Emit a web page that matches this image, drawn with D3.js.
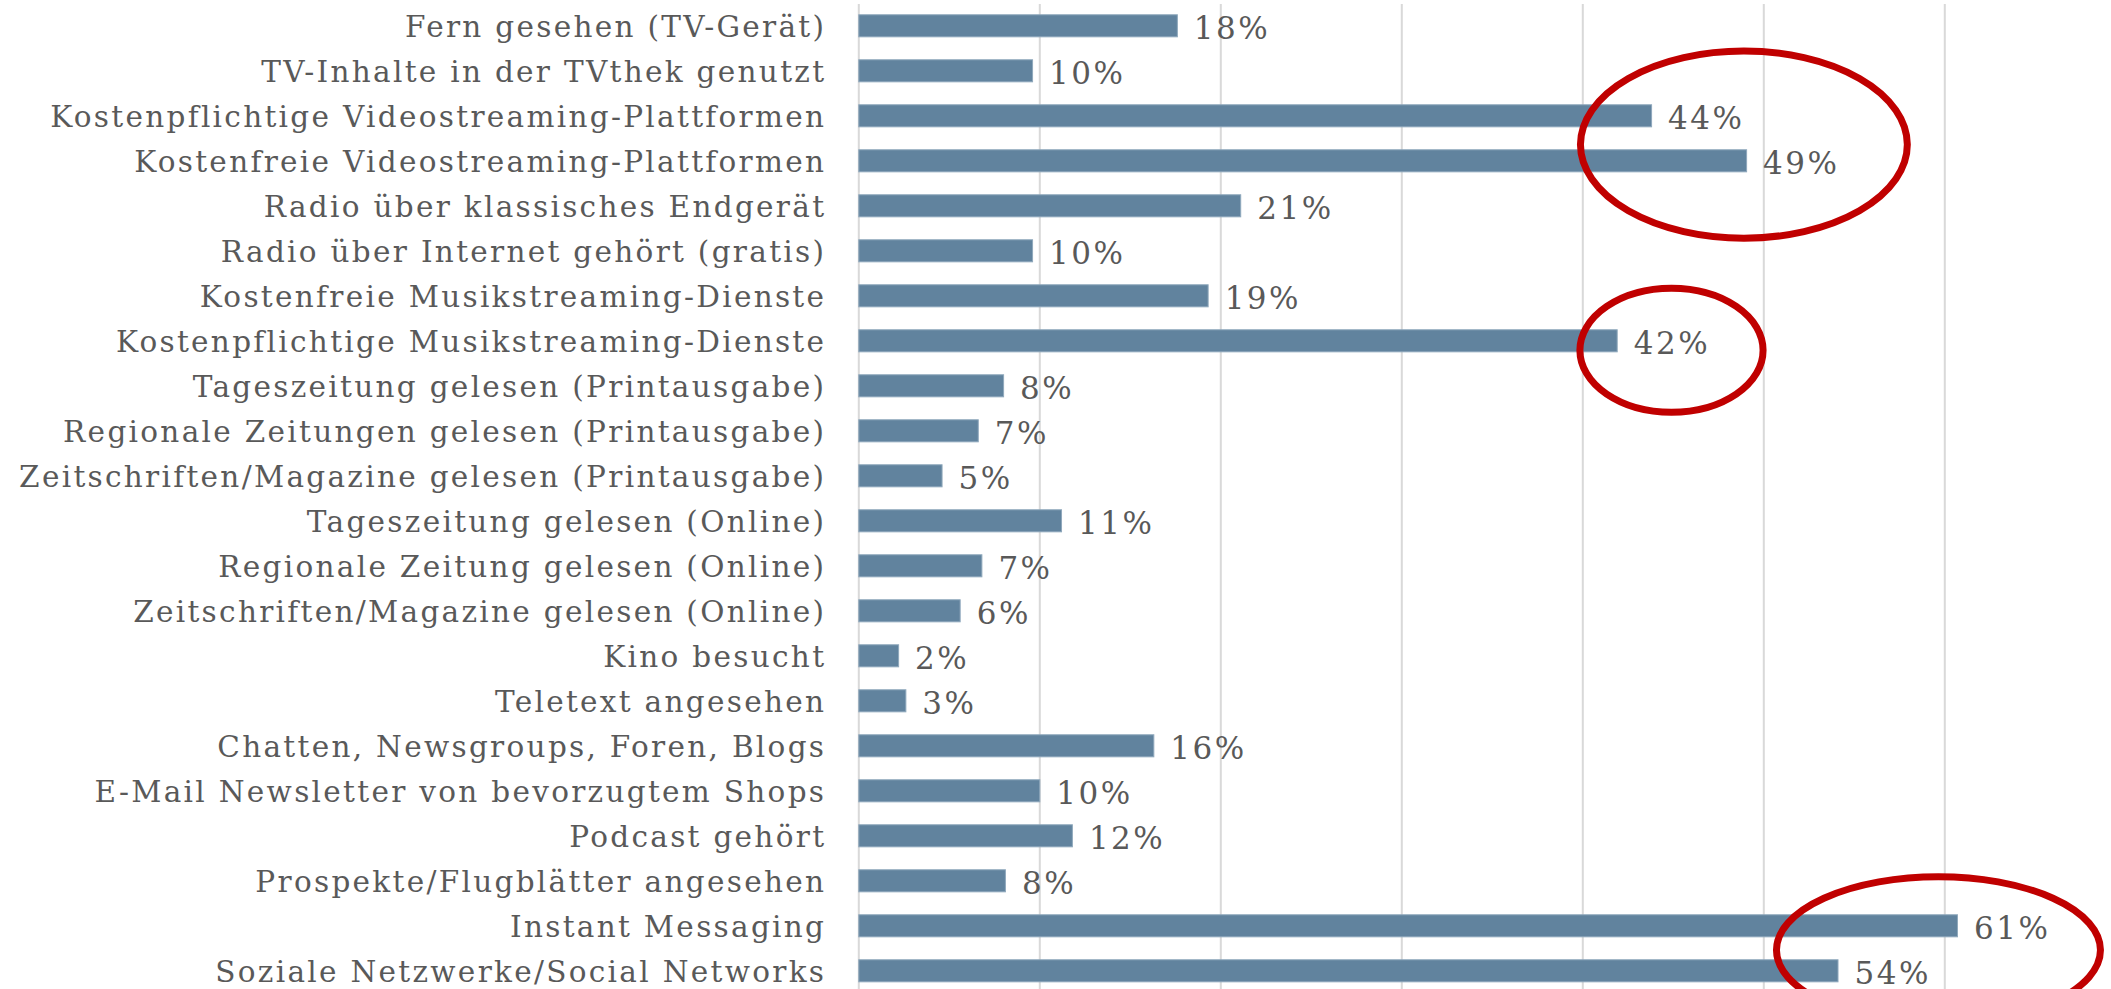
<!DOCTYPE html>
<html>
<head>
<meta charset="utf-8">
<script src="https://cdn.jsdelivr.net/npm/d3@7"></script>
<style>
  html, body { margin: 0; padding: 0; background: #ffffff; }
  svg { display: block; }
</style>
</head>
<body>
<svg id="chart" width="2111" height="989"></svg>
<script>
const categories = [
  "Fern gesehen (TV-Gerät)",
  "TV-Inhalte in der TVthek genutzt",
  "Kostenpflichtige Videostreaming-Plattformen",
  "Kostenfreie Videostreaming-Plattformen",
  "Radio über klassisches Endgerät",
  "Radio über Internet gehört (gratis)",
  "Kostenfreie Musikstreaming-Dienste",
  "Kostenpflichtige Musikstreaming-Dienste",
  "Tageszeitung gelesen (Printausgabe)",
  "Regionale Zeitungen gelesen (Printausgabe)",
  "Zeitschriften/Magazine gelesen (Printausgabe)",
  "Tageszeitung gelesen (Online)",
  "Regionale Zeitung gelesen (Online)",
  "Zeitschriften/Magazine gelesen (Online)",
  "Kino besucht",
  "Teletext angesehen",
  "Chatten, Newsgroups, Foren, Blogs",
  "E-Mail Newsletter von bevorzugtem Shops",
  "Podcast gehört",
  "Prospekte/Flugblätter angesehen",
  "Instant Messaging",
  "Soziale Netzwerke/Social Networks"
];
const values = [17.6, 9.6, 43.8, 49.05, 21.1, 9.6, 19.3, 41.9, 8.0, 6.6, 4.6, 11.2, 6.8, 5.6, 2.2, 2.6, 16.3, 10.0, 11.8, 8.1, 60.7, 54.1];
const valueLabels = ["18%", "10%", "44%", "49%", "21%", "10%", "19%", "42%", "8%", "7%", "5%", "11%", "7%", "6%", "2%", "3%", "16%", "10%", "12%", "8%", "61%", "54%"];
const xTicks = [0, 10, 20, 30, 40, 50, 60, 70];
// highlight ellipses in data units: centre (percent, row index), radii (percent, rows)
const highlightCx = [48.9, 44.9, 59.65];
const highlightCy = [2.64, 7.21, 20.54];
const highlightRx = [9.03, 5.06, 8.95];
const highlightRy = [2.08, 1.38, 1.63];

const svg = d3.select("#chart");
const W = 2111, H = 989;

const x = d3.scaleLinear().domain([0, 70]).range([858.8, 858.8 + 7 * 181]);
const y = d3.scaleBand().domain(categories).range([3.3, 993.3]).paddingInner(0.51).paddingOuter(0.255);
const rowUnit = y.step();
const rowCenter = i => y.range()[0] + y.step() * (0.5 + i);

// gridlines
svg.append("g").selectAll("line").data(xTicks).join("line")
  .attr("x1", d => x(d)).attr("x2", d => x(d))
  .attr("y1", 4).attr("y2", H)
  .attr("stroke", "#d9d9d9").attr("stroke-width", 2);

// bars
svg.append("g").selectAll("rect").data(values).join("rect")
  .attr("x", x(0))
  .attr("y", (d, i) => y(categories[i]))
  .attr("width", d => x(d) - x(0))
  .attr("height", y.bandwidth())
  .attr("fill", "#61839e")
  .attr("stroke", "#8fa8bc").attr("stroke-width", 1);

// category labels
svg.append("g").selectAll("text").data(categories).join("text")
  .attr("x", 826.3)
  .attr("y", d => y(d) + y.bandwidth() / 2)
  .attr("dy", "0.39em")
  .attr("text-anchor", "end")
  .attr("font-family", "'DejaVu Serif', serif")
  .attr("font-size", 29.5)
  .attr("letter-spacing", 2.3)
  .attr("fill", "#595959")
  .text(d => d);

// value labels
svg.append("g").selectAll("text").data(values).join("text")
  .attr("x", d => x(d) + 16.5)
  .attr("y", (d, i) => y(categories[i]) + y.bandwidth() / 2)
  .attr("dy", "0.43em")
  .attr("font-family", "'DejaVu Serif', serif")
  .attr("font-size", 31)
  .attr("letter-spacing", 2.5)
  .attr("fill", "#595959")
  .text((d, i) => valueLabels[i]);

// highlight ellipses
svg.append("g").selectAll("ellipse").data(highlightCx).join("ellipse")
  .attr("cx", d => x(d))
  .attr("cy", (d, i) => rowCenter(highlightCy[i]))
  .attr("rx", (d, i) => x(highlightRx[i]) - x(0))
  .attr("ry", (d, i) => highlightRy[i] * rowUnit)
  .attr("fill", "none")
  .attr("stroke", "#c00000")
  .attr("stroke-width", 7);
</script>
</body>
</html>
